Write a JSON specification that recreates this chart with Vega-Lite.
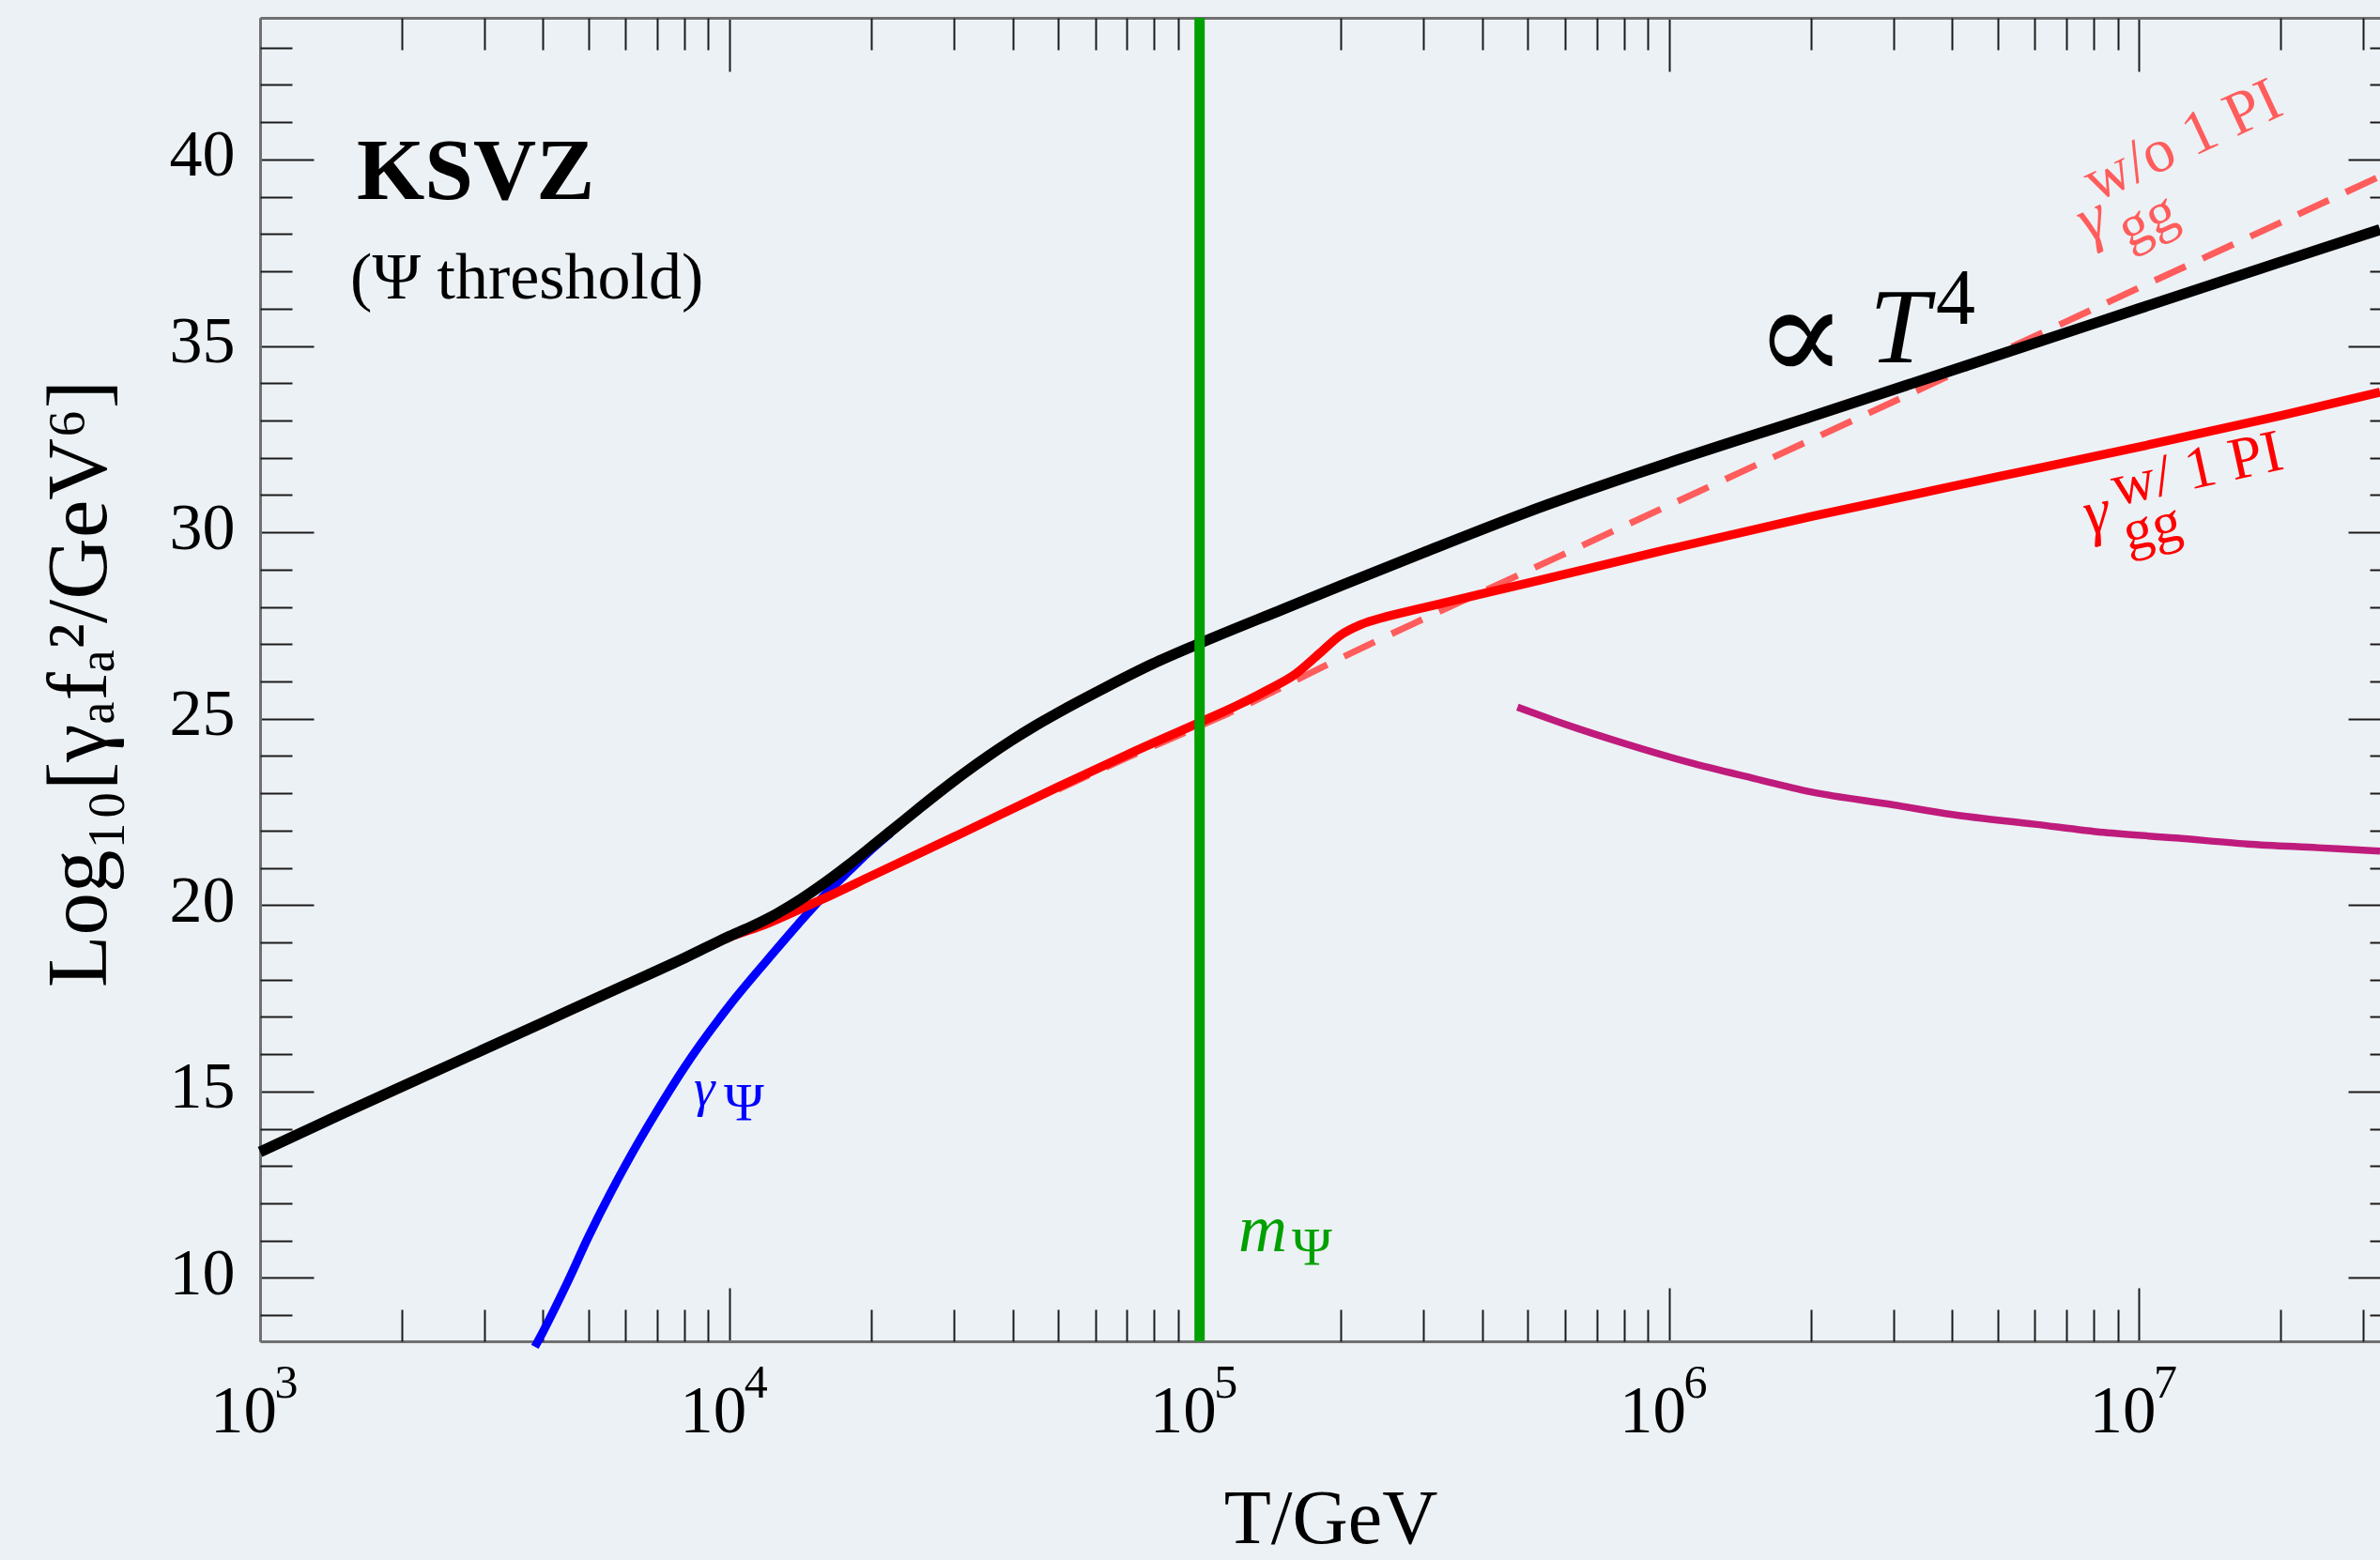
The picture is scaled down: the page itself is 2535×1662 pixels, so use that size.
{
  "$schema": "https://vega.github.io/schema/vega-lite/v6.json",
  "width": 2258,
  "height": 1410,
  "autosize": "none",
  "padding": {"left": 277, "top": 19, "right": 0, "bottom": 233},
  "background": "#ECF1F5",
  "config": {"view": {"stroke": null}, "font": "Liberation Serif"},
  "datasets": {
    "curves": [
      {"s": "blue", "T": 3846, "v": 8.15},
      {"s": "blue", "T": 4000, "v": 8.55},
      {"s": "blue", "T": 4500, "v": 9.85},
      {"s": "blue", "T": 5000, "v": 11.1},
      {"s": "blue", "T": 6000, "v": 13.03},
      {"s": "blue", "T": 7000, "v": 14.48},
      {"s": "blue", "T": 8000, "v": 15.64},
      {"s": "blue", "T": 10000, "v": 17.32},
      {"s": "blue", "T": 12000, "v": 18.52},
      {"s": "blue", "T": 14000, "v": 19.5},
      {"s": "blue", "T": 16000, "v": 20.3},
      {"s": "blue", "T": 18000, "v": 20.93},
      {"s": "blue", "T": 20000, "v": 21.48},
      {"s": "blue", "T": 22000, "v": 21.93},
      {"s": "black", "T": 1000, "v": 13.38},
      {"s": "black", "T": 1500, "v": 14.41},
      {"s": "black", "T": 2500, "v": 15.68},
      {"s": "black", "T": 4000, "v": 16.85},
      {"s": "black", "T": 6000, "v": 17.86},
      {"s": "black", "T": 8000, "v": 18.58},
      {"s": "black", "T": 10000, "v": 19.17},
      {"s": "black", "T": 11220, "v": 19.45},
      {"s": "black", "T": 12590, "v": 19.77},
      {"s": "black", "T": 14130, "v": 20.15},
      {"s": "black", "T": 15850, "v": 20.58},
      {"s": "black", "T": 17780, "v": 21.05},
      {"s": "black", "T": 19950, "v": 21.55},
      {"s": "black", "T": 22390, "v": 22.06},
      {"s": "black", "T": 25120, "v": 22.57},
      {"s": "black", "T": 28180, "v": 23.07},
      {"s": "black", "T": 31620, "v": 23.55},
      {"s": "black", "T": 35480, "v": 24.0},
      {"s": "black", "T": 39810, "v": 24.42},
      {"s": "black", "T": 44670, "v": 24.81},
      {"s": "black", "T": 50120, "v": 25.17},
      {"s": "black", "T": 63100, "v": 25.84},
      {"s": "black", "T": 79430, "v": 26.47},
      {"s": "black", "T": 100000, "v": 27.02},
      {"s": "black", "T": 150000, "v": 27.93},
      {"s": "black", "T": 200000, "v": 28.57},
      {"s": "black", "T": 300000, "v": 29.46},
      {"s": "black", "T": 500000, "v": 30.55},
      {"s": "black", "T": 1000000, "v": 31.87},
      {"s": "black", "T": 2000000, "v": 33.1},
      {"s": "black", "T": 5000000, "v": 34.75},
      {"s": "black", "T": 10000000, "v": 36.0},
      {"s": "black", "T": 20000000, "v": 37.25},
      {"s": "black", "T": 32570000, "v": 38.12},
      {"s": "red", "T": 8000, "v": 18.56},
      {"s": "red", "T": 10000, "v": 19.14},
      {"s": "red", "T": 12000, "v": 19.5},
      {"s": "red", "T": 14000, "v": 19.87},
      {"s": "red", "T": 16000, "v": 20.2},
      {"s": "red", "T": 20000, "v": 20.78},
      {"s": "red", "T": 30000, "v": 21.83},
      {"s": "red", "T": 50000, "v": 23.17},
      {"s": "red", "T": 70000, "v": 24.03},
      {"s": "red", "T": 100000, "v": 24.9},
      {"s": "red", "T": 120000, "v": 25.35},
      {"s": "red", "T": 140000, "v": 25.78},
      {"s": "red", "T": 160000, "v": 26.2},
      {"s": "red", "T": 180000, "v": 26.75},
      {"s": "red", "T": 200000, "v": 27.25},
      {"s": "red", "T": 220000, "v": 27.52},
      {"s": "red", "T": 250000, "v": 27.74},
      {"s": "red", "T": 300000, "v": 27.98},
      {"s": "red", "T": 500000, "v": 28.64},
      {"s": "red", "T": 1000000, "v": 29.55},
      {"s": "red", "T": 2000000, "v": 30.42},
      {"s": "red", "T": 5000000, "v": 31.49},
      {"s": "red", "T": 10000000, "v": 32.29},
      {"s": "red", "T": 20000000, "v": 33.13},
      {"s": "red", "T": 32570000, "v": 33.76},
      {"s": "dashed", "T": 50000, "v": 23.1},
      {"s": "dashed", "T": 70000, "v": 23.95},
      {"s": "dashed", "T": 100000, "v": 24.8},
      {"s": "dashed", "T": 125000, "v": 25.35},
      {"s": "dashed", "T": 150000, "v": 25.85},
      {"s": "dashed", "T": 200000, "v": 26.63},
      {"s": "dashed", "T": 300000, "v": 27.68},
      {"s": "dashed", "T": 500000, "v": 28.97},
      {"s": "dashed", "T": 1000000, "v": 30.73},
      {"s": "dashed", "T": 2000000, "v": 32.48},
      {"s": "dashed", "T": 5000000, "v": 34.8},
      {"s": "dashed", "T": 10000000, "v": 36.56},
      {"s": "dashed", "T": 20000000, "v": 38.31},
      {"s": "dashed", "T": 32570000, "v": 39.55},
      {"s": "magenta", "T": 475000, "v": 25.31},
      {"s": "magenta", "T": 600000, "v": 24.85},
      {"s": "magenta", "T": 800000, "v": 24.34},
      {"s": "magenta", "T": 1100000, "v": 23.83},
      {"s": "magenta", "T": 1500000, "v": 23.41},
      {"s": "magenta", "T": 2000000, "v": 23.04},
      {"s": "magenta", "T": 3000000, "v": 22.69},
      {"s": "magenta", "T": 4000000, "v": 22.43},
      {"s": "magenta", "T": 6000000, "v": 22.17},
      {"s": "magenta", "T": 8400000, "v": 21.95},
      {"s": "magenta", "T": 12000000, "v": 21.8},
      {"s": "magenta", "T": 17000000, "v": 21.64},
      {"s": "magenta", "T": 24000000, "v": 21.54},
      {"s": "magenta", "T": 32570000, "v": 21.45}
    ]
  },
  "resolve": {"scale": {"x": "shared", "y": "shared"}, "axis": {"x": "independent", "y": "independent"}},
  "layer": [
    {
      "data": {"name": "curves"},
      "transform": [{"filter": "datum.s === 'blue'"}],
      "mark": {"type": "line", "color": "#0000FF", "strokeWidth": 9, "interpolate": "monotone"},
      "encoding": {
        "x": {"field": "T", "type": "quantitative", "scale": {"type": "log", "domain": [1000, 32570000], "nice": false},
          "axis": {"orient": "bottom", "values": [1000, 10000, 100000, 1000000, 10000000], "labelExpr": "'10'", "tickSize": -57, "tickWidth": 2, "tickColor": "#1a1a1a", "domainColor": "#707070", "domainWidth": 3, "grid": false, "labelFont": "Liberation Serif", "labelFontSize": 71, "labelColor": "#000000", "labelAlign": "center", "labelBaseline": "alphabetic", "labelOffset": -18, "labelPadding": 153, "labelFlush": false, "labelOverlap": false, "title": "T/GeV", "titleFont": "Liberation Serif", "titleFontSize": 82, "titleFontWeight": "normal", "titleColor": "#000000", "titleX": 1140, "titleY": 214, "titleAlign": "center", "titleBaseline": "alphabetic"}},
        "y": {"field": "v", "type": "quantitative", "scale": {"domain": [8.3, 43.8], "zero": false, "nice": false},
          "axis": {"orient": "left", "values": [10, 15, 20, 25, 30, 35, 40], "tickSize": -57, "tickWidth": 2, "tickColor": "#1a1a1a", "domainColor": "#707070", "domainWidth": 3, "grid": false, "labelFont": "Liberation Serif", "labelFontSize": 70, "labelColor": "#000000", "labelAlign": "right", "labelBaseline": "alphabetic", "labelOffset": 17, "labelPadding": 84, "labelFlush": false, "labelOverlap": false, "title": "Log₁₀[γₐfₐ²/GeV⁶]", "titleFont": "Liberation Serif, DejaVu Serif", "titleFontSize": 91, "titleFontWeight": "normal", "titleColor": "#000000", "titleAngle": 270, "titleX": -165, "titleY": 709, "titleAlign": "center", "titleBaseline": "alphabetic"}}
      }
    },
    {
      "data": {"name": "curves"},
      "transform": [{"filter": "datum.s === 'dashed'"}],
      "mark": {"type": "line", "color": "#FF5C5C", "strokeWidth": 7, "strokeDash": [36, 20], "interpolate": "monotone"},
      "encoding": {
        "x": {"field": "T", "type": "quantitative", "scale": {"type": "log", "domain": [1000, 32570000], "nice": false},
          "axis": {"orient": "bottom", "values": [2000, 3000, 4000, 5000, 6000, 7000, 8000, 9000, 20000, 30000, 40000, 50000, 60000, 70000, 80000, 90000, 200000, 300000, 400000, 500000, 600000, 700000, 800000, 900000, 2000000, 3000000, 4000000, 5000000, 6000000, 7000000, 8000000, 9000000, 20000000, 30000000], "tickSize": -34, "tickWidth": 2, "tickColor": "#1a1a1a", "domain": false, "grid": false, "labels": false, "title": null}},
        "y": {"field": "v", "type": "quantitative", "scale": {"domain": [8.3, 43.8], "zero": false, "nice": false},
          "axis": {"orient": "left", "values": [9, 11, 12, 13, 14, 16, 17, 18, 19, 21, 22, 23, 24, 26, 27, 28, 29, 31, 32, 33, 34, 36, 37, 38, 39, 41, 42, 43], "tickSize": -34, "tickWidth": 2, "tickColor": "#1a1a1a", "domain": false, "grid": false, "labels": false, "title": null}}
      }
    },
    {
      "data": {"name": "curves"},
      "transform": [{"filter": "datum.s === 'red'"}],
      "mark": {"type": "line", "color": "#FF0000", "strokeWidth": 9.5, "interpolate": "monotone"},
      "encoding": {
        "x": {"field": "T", "type": "quantitative", "scale": {"type": "log", "domain": [1000, 32570000], "nice": false},
          "axis": {"orient": "top", "values": [1000, 10000, 100000, 1000000, 10000000], "tickSize": -57, "tickWidth": 2, "tickColor": "#1a1a1a", "domainColor": "#707070", "domainWidth": 3, "grid": false, "labels": false, "title": null}},
        "y": {"field": "v", "type": "quantitative", "scale": {"domain": [8.3, 43.8], "zero": false, "nice": false},
          "axis": {"orient": "right", "offset": 23, "values": [10, 15, 20, 25, 30, 35, 40], "tickSize": -57, "tickWidth": 2, "tickColor": "#1a1a1a", "domain": false, "grid": false, "labels": false, "title": null}}
      }
    },
    {
      "data": {"name": "curves"},
      "transform": [{"filter": "datum.s === 'black'"}],
      "mark": {"type": "line", "color": "#000000", "strokeWidth": 11.5, "interpolate": "monotone"},
      "encoding": {
        "x": {"field": "T", "type": "quantitative", "scale": {"type": "log", "domain": [1000, 32570000], "nice": false},
          "axis": {"orient": "top", "values": [2000, 3000, 4000, 5000, 6000, 7000, 8000, 9000, 20000, 30000, 40000, 50000, 60000, 70000, 80000, 90000, 200000, 300000, 400000, 500000, 600000, 700000, 800000, 900000, 2000000, 3000000, 4000000, 5000000, 6000000, 7000000, 8000000, 9000000, 20000000, 30000000], "tickSize": -34, "tickWidth": 2, "tickColor": "#1a1a1a", "domain": false, "grid": false, "labels": false, "title": null}},
        "y": {"field": "v", "type": "quantitative", "scale": {"domain": [8.3, 43.8], "zero": false, "nice": false},
          "axis": {"orient": "right", "offset": 23, "values": [9, 11, 12, 13, 14, 16, 17, 18, 19, 21, 22, 23, 24, 26, 27, 28, 29, 31, 32, 33, 34, 36, 37, 38, 39, 41, 42, 43], "tickSize": -34, "tickWidth": 2, "tickColor": "#1a1a1a", "domain": false, "grid": false, "labels": false, "title": null}}
      }
    },
    {
      "data": {"values": [{"T": 100000}]},
      "mark": {"type": "rule", "color": "#00A000", "strokeWidth": 11},
      "encoding": {
        "x": {"field": "T", "type": "quantitative", "scale": {"type": "log", "domain": [1000, 32570000], "nice": false},
          "axis": {"orient": "bottom", "values": [1000, 10000, 100000, 1000000, 10000000], "labelExpr": "'' + round(log(datum.value) / LN10)", "ticks": false, "tickSize": 0, "domain": false, "grid": false, "labelFont": "Liberation Serif", "labelFontSize": 50, "labelColor": "#000000", "labelAlign": "left", "labelBaseline": "alphabetic", "labelOffset": 15, "labelPadding": 59, "labelFlush": false, "labelOverlap": false, "title": null}}
      }
    },
    {
      "data": {"name": "curves"},
      "transform": [{"filter": "datum.s === 'magenta'"}],
      "mark": {"type": "line", "color": "#BF1B7C", "strokeWidth": 7.5, "interpolate": "monotone"},
      "encoding": {
        "x": {"field": "T", "type": "quantitative", "axis": null},
        "y": {"field": "v", "type": "quantitative", "axis": null}
      }
    },
    {
      "data": {"values": [{"T": 1606, "v": 38.94, "label": "KSVZ"}]},
      "mark": {"type": "text", "font": "Liberation Serif", "fontSize": 93, "fontWeight": "bold", "align": "left", "baseline": "alphabetic", "color": "#000000"},
      "encoding": {"x": {"field": "T", "type": "quantitative", "axis": null}, "y": {"field": "v", "type": "quantitative", "axis": null}, "text": {"field": "label"}}
    },
    {
      "data": {"values": [{"T": 1556, "v": 36.27, "label": "(Ψ threshold)"}]},
      "mark": {"type": "text", "font": "Liberation Serif", "fontSize": 70, "align": "left", "baseline": "alphabetic", "color": "#000000"},
      "encoding": {"x": {"field": "T", "type": "quantitative", "axis": null}, "y": {"field": "v", "type": "quantitative", "axis": null}, "text": {"field": "label"}}
    },
    {
      "data": {"values": [{"T": 1520000, "v": 34.06, "label": "∝"}]},
      "mark": {"type": "text", "font": "Liberation Serif, DejaVu Serif", "fontSize": 145, "align": "left", "baseline": "alphabetic", "color": "#000000"},
      "encoding": {"x": {"field": "T", "type": "quantitative", "axis": null}, "y": {"field": "v", "type": "quantitative", "axis": null}, "text": {"field": "label"}}
    },
    {
      "data": {"values": [{"T": 2665000, "v": 34.56, "label": "T"}]},
      "mark": {"type": "text", "font": "Liberation Serif", "fontSize": 115, "fontStyle": "italic", "align": "left", "baseline": "alphabetic", "color": "#000000"},
      "encoding": {"x": {"field": "T", "type": "quantitative", "axis": null}, "y": {"field": "v", "type": "quantitative", "axis": null}, "text": {"field": "label"}}
    },
    {
      "data": {"values": [{"T": 3694000, "v": 35.6, "label": "4"}]},
      "mark": {"type": "text", "font": "Liberation Serif", "fontSize": 84, "align": "left", "baseline": "alphabetic", "color": "#000000"},
      "encoding": {"x": {"field": "T", "type": "quantitative", "axis": null}, "y": {"field": "v", "type": "quantitative", "axis": null}, "text": {"field": "label"}}
    },
    {
      "data": {"values": [{"T": 7790000, "v": 37.76, "label": "γ"}]},
      "mark": {"type": "text", "font": "Liberation Serif", "fontSize": 70, "fontStyle": "italic", "angle": 335, "align": "left", "baseline": "alphabetic", "color": "#FF5C5C"},
      "encoding": {"x": {"field": "T", "type": "quantitative", "axis": null}, "y": {"field": "v", "type": "quantitative", "axis": null}, "text": {"field": "label"}}
    },
    {
      "data": {"values": [{"T": 9490000, "v": 37.61, "label": "gg"}]},
      "mark": {"type": "text", "font": "Liberation Serif", "fontSize": 62, "angle": 335, "align": "left", "baseline": "alphabetic", "color": "#FF5C5C"},
      "encoding": {"x": {"field": "T", "type": "quantitative", "axis": null}, "y": {"field": "v", "type": "quantitative", "axis": null}, "text": {"field": "label"}}
    },
    {
      "data": {"values": [{"T": 8075000, "v": 38.85, "label": "w/o 1 PI"}]},
      "mark": {"type": "text", "font": "Liberation Serif", "fontSize": 66, "angle": 335, "align": "left", "baseline": "alphabetic", "color": "#FF5C5C"},
      "encoding": {"x": {"field": "T", "type": "quantitative", "axis": null}, "y": {"field": "v", "type": "quantitative", "axis": null}, "text": {"field": "label"}}
    },
    {
      "data": {"values": [{"T": 7790000, "v": 29.93, "label": "γ"}]},
      "mark": {"type": "text", "font": "Liberation Serif", "fontSize": 68, "fontStyle": "italic", "angle": 347.6, "align": "left", "baseline": "alphabetic", "color": "#FF0000"},
      "encoding": {"x": {"field": "T", "type": "quantitative", "axis": null}, "y": {"field": "v", "type": "quantitative", "axis": null}, "text": {"field": "label"}}
    },
    {
      "data": {"values": [{"T": 9445000, "v": 29.5, "label": "gg"}]},
      "mark": {"type": "text", "font": "Liberation Serif", "fontSize": 62, "angle": 347.6, "align": "left", "baseline": "alphabetic", "color": "#FF0000"},
      "encoding": {"x": {"field": "T", "type": "quantitative", "axis": null}, "y": {"field": "v", "type": "quantitative", "axis": null}, "text": {"field": "label"}}
    },
    {
      "data": {"values": [{"T": 8940000, "v": 30.71, "label": "w/ 1 PI"}]},
      "mark": {"type": "text", "font": "Liberation Serif", "fontSize": 64, "angle": 347.6, "align": "left", "baseline": "alphabetic", "color": "#FF0000"},
      "encoding": {"x": {"field": "T", "type": "quantitative", "axis": null}, "y": {"field": "v", "type": "quantitative", "axis": null}, "text": {"field": "label"}}
    },
    {
      "data": {"values": [{"T": 8381, "v": 14.62, "label": "γ"}]},
      "mark": {"type": "text", "font": "Liberation Serif", "fontSize": 57, "fontStyle": "italic", "align": "left", "baseline": "alphabetic", "color": "#0000FF"},
      "encoding": {"x": {"field": "T", "type": "quantitative", "axis": null}, "y": {"field": "v", "type": "quantitative", "axis": null}, "text": {"field": "label"}}
    },
    {
      "data": {"values": [{"T": 9712, "v": 14.21, "label": "Ψ"}]},
      "mark": {"type": "text", "font": "Liberation Serif", "fontSize": 58, "align": "left", "baseline": "alphabetic", "color": "#0000FF"},
      "encoding": {"x": {"field": "T", "type": "quantitative", "axis": null}, "y": {"field": "v", "type": "quantitative", "axis": null}, "text": {"field": "label"}}
    },
    {
      "data": {"values": [{"T": 120940, "v": 10.71, "label": "m"}]},
      "mark": {"type": "text", "font": "Liberation Serif", "fontSize": 72, "fontStyle": "italic", "align": "left", "baseline": "alphabetic", "color": "#00A000"},
      "encoding": {"x": {"field": "T", "type": "quantitative", "axis": null}, "y": {"field": "v", "type": "quantitative", "axis": null}, "text": {"field": "label"}}
    },
    {
      "data": {"values": [{"T": 157260, "v": 10.33, "label": "Ψ"}]},
      "mark": {"type": "text", "font": "Liberation Serif", "fontSize": 58, "align": "left", "baseline": "alphabetic", "color": "#00A000"},
      "encoding": {"x": {"field": "T", "type": "quantitative", "axis": null}, "y": {"field": "v", "type": "quantitative", "axis": null}, "text": {"field": "label"}}
    }
  ]
}
